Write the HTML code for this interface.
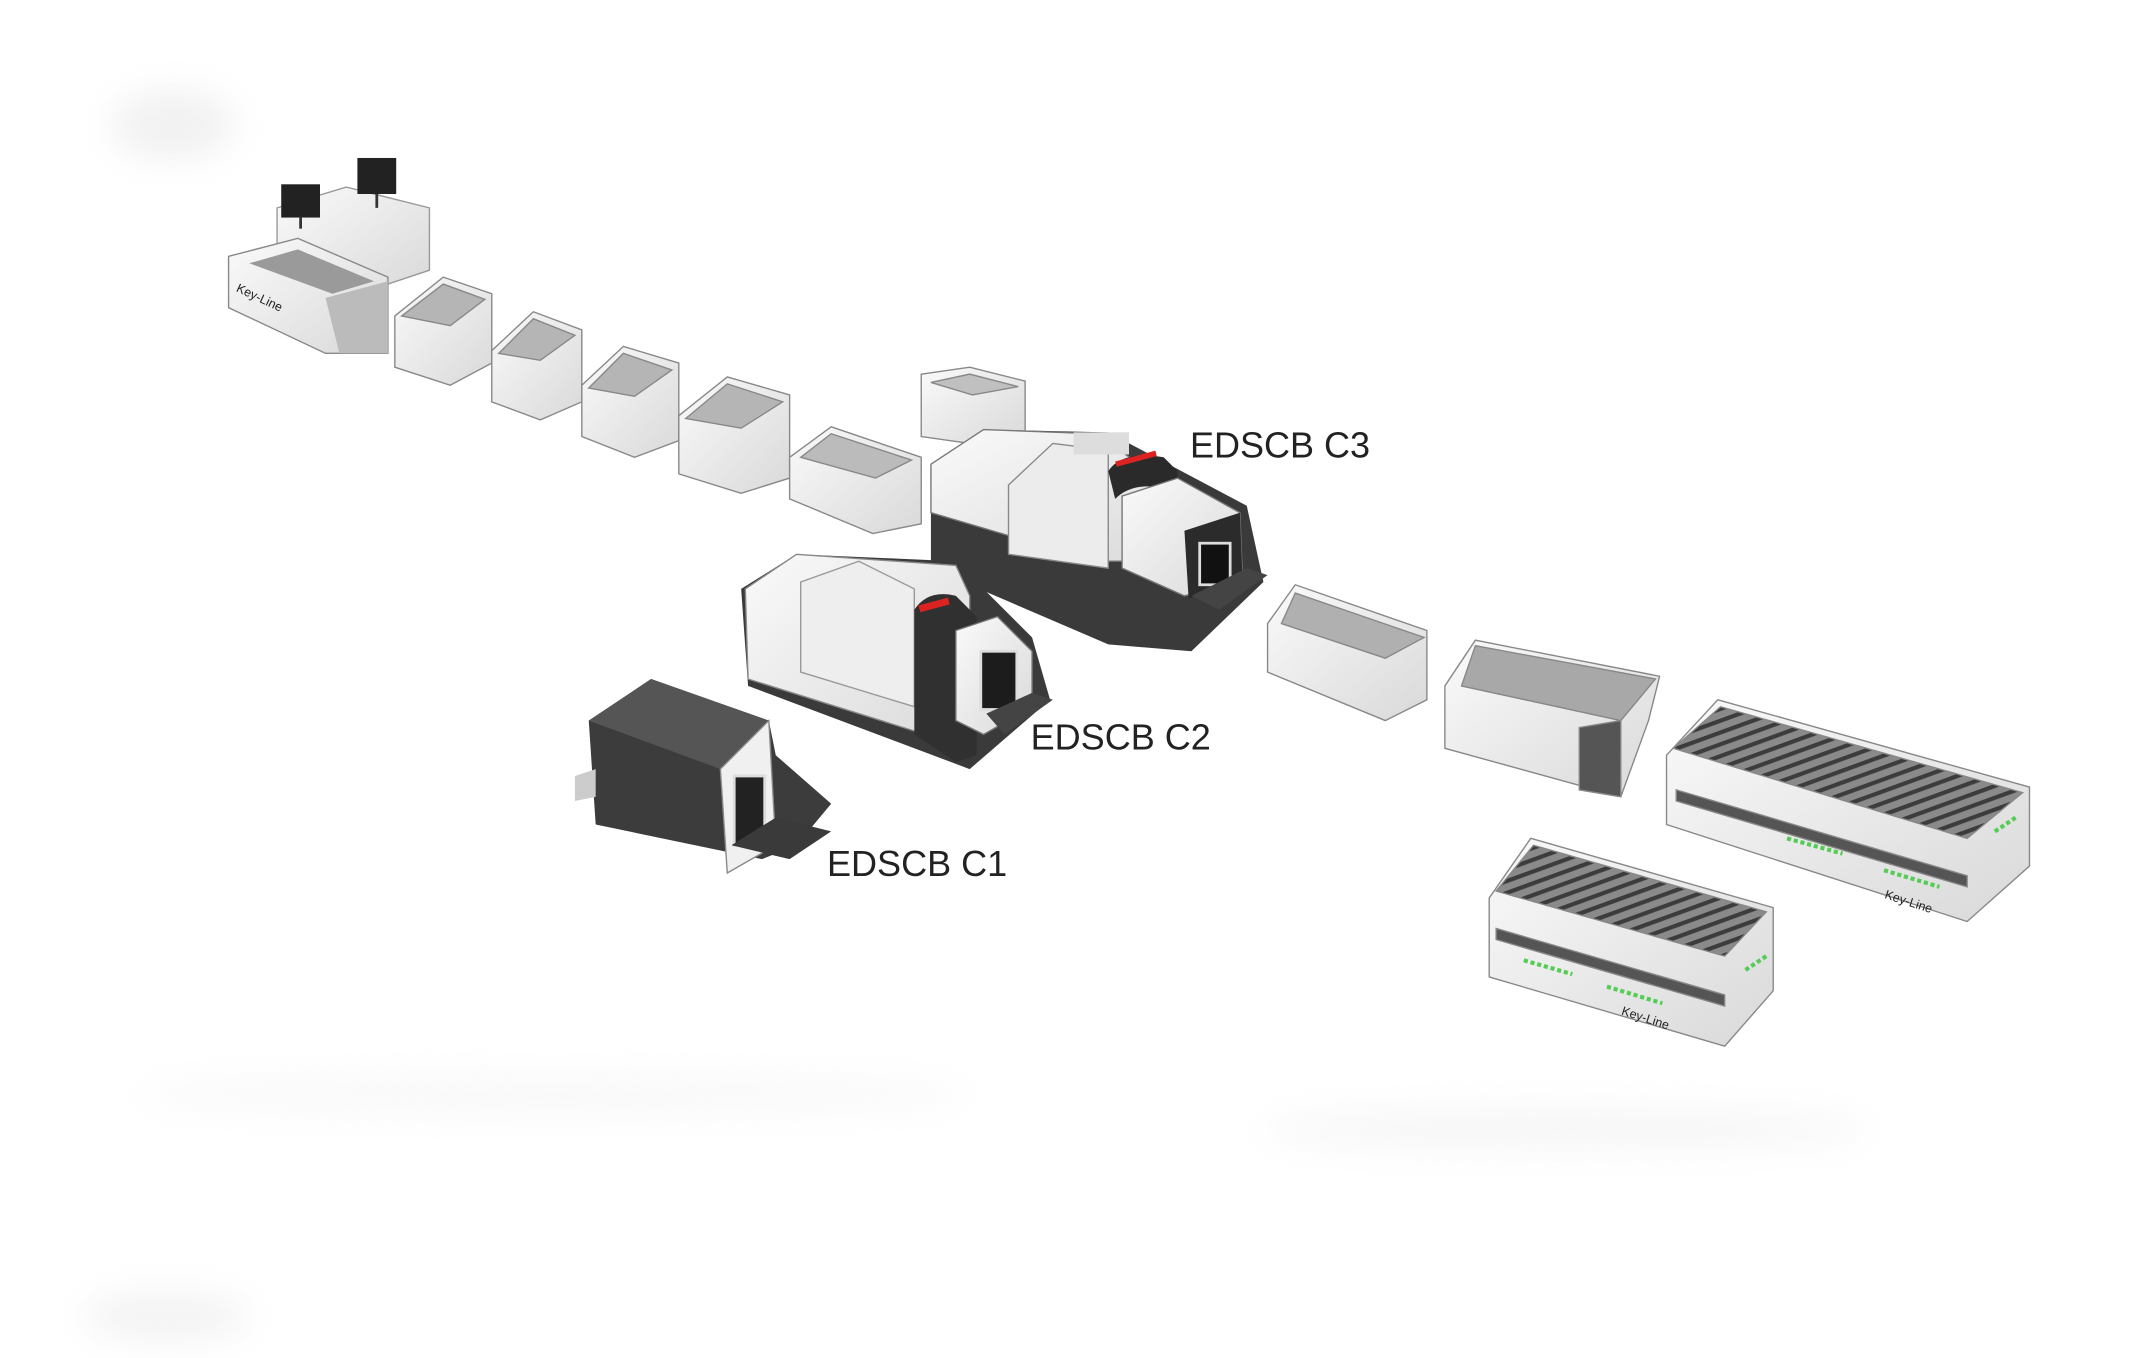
<!DOCTYPE html>
<html><head><meta charset="utf-8"><style>
html,body{margin:0;padding:0;background:#fff;}
svg{display:block}
text{font-family:"Liberation Sans",sans-serif;fill:#222;}
</style></head><body>
<svg width="2150" height="1358" viewBox="0 0 1552 980" preserveAspectRatio="none" xmlns="http://www.w3.org/2000/svg">
<defs>
<linearGradient id="w" x1="0" y1="0" x2="1" y2="1"><stop offset="0" stop-color="#fafafa"/><stop offset="1" stop-color="#d9d9d9"/></linearGradient>
<filter id="bl"><feGaussianBlur stdDeviation="12"/></filter>
<pattern id="rl" width="8" height="8" patternUnits="userSpaceOnUse" patternTransform="rotate(70)"><rect width="8" height="8" fill="#8a8a8a"/><rect width="3" height="8" fill="#3c3c3c"/></pattern>
</defs>
<rect width="1552" height="980" fill="#fff"/>
<g filter="url(#bl)" opacity="0.5">
<ellipse cx="125" cy="90" rx="45" ry="25" fill="#e4e4e4"/>
<ellipse cx="1130" cy="815" rx="220" ry="14" fill="#ececec"/>
<ellipse cx="400" cy="790" rx="300" ry="12" fill="#f0f0f0"/>
<ellipse cx="120" cy="950" rx="60" ry="18" fill="#e8e8e8"/>
</g>

<polygon points="200,150 250,135 310,150 310,195 265,210 200,190" fill="url(#w)" stroke="#999" stroke-width="1"/>
<rect x="203" y="133" width="28" height="24" fill="#222"/>
<rect x="258" y="114" width="28" height="26" fill="#222"/>
<line x1="217" y1="157" x2="217" y2="165" stroke="#333" stroke-width="2"/>
<line x1="272" y1="140" x2="272" y2="150" stroke="#333" stroke-width="2"/>
<polygon points="165,185 215,172 280,200 280,255 235,255 165,222" fill="url(#w)" stroke="#888"/>
<polygon points="180,190 215,180 270,203 240,212" fill="#9a9a9a"/>
<polygon points="235,215 280,203 280,255 245,255" fill="#bbb"/>
<text x="170" y="210" font-size="9" fill="#c33" transform="rotate(25 170 210)">Key-Line</text>

<g stroke="#888" stroke-width="1">
<polygon points="285,228 320,200 355,212 355,262 325,278 285,265" fill="url(#w)"/>
<polygon points="290,228 320,205 350,216 325,235" fill="#b5b5b5"/>
<polygon points="355,253 385,225 420,238 420,290 390,303 355,290" fill="url(#w)"/>
<polygon points="360,255 385,230 415,242 390,260" fill="#b5b5b5"/>
<polygon points="420,278 450,250 490,262 490,318 458,330 420,315" fill="url(#w)"/>
<polygon points="425,280 450,255 485,267 458,286" fill="#b5b5b5"/>
<polygon points="490,300 525,272 570,285 570,345 535,356 490,342" fill="url(#w)"/>
<polygon points="495,302 525,277 565,290 535,309" fill="#b5b5b5"/>
<polygon points="570,330 600,308 665,330 665,378 630,385 570,360" fill="url(#w)"/>
<polygon points="578,330 600,313 658,332 632,345" fill="#bbb"/>
<polygon points="665,270 700,265 740,275 740,320 700,320 665,315" fill="url(#w)"/>
<polygon points="672,276 700,270 735,279 702,285" fill="#c0c0c0"/>
</g>

<polygon points="672,335 710,310 800,312 900,365 912,420 860,470 800,465 672,410" fill="#3a3a3a"/>
<polygon points="672,335 710,310 790,313 860,360 860,405 800,405 740,390 672,370" fill="url(#w)" stroke="#777"/>
<polygon points="728,350 760,320 800,325 800,410 728,400" fill="#ececec" stroke="#888"/>
<path d="M800,340 Q810,325 840,330 L850,340 L850,355 Q820,345 805,360 Z" fill="#2a2a2a"/>
<rect x="805" y="333" width="30" height="4" fill="#d22" transform="rotate(-15 805 333)"/>
<polygon points="810,358 850,345 895,370 897,420 855,430 810,410" fill="url(#w)" stroke="#777"/>
<path d="M855,383 L895,370 L897,420 L858,432 Z" fill="#2b2b2b"/>
<rect x="866" y="392" width="22" height="30" fill="#111" stroke="#ddd" stroke-width="2"/>
<polygon points="860,430 900,410 915,415 880,440" fill="#444"/>
<rect x="775" y="312" width="40" height="16" fill="#ddd"/>
<text x="859" y="330" font-size="26">EDSCB C3</text>

<polygon points="535,425 575,400 690,405 745,460 758,505 700,555 540,495" fill="#3a3a3a"/>
<polygon points="538,425 575,400 690,408 700,430 700,540 540,490" fill="url(#w)" stroke="#888"/>
<polygon points="578,420 620,405 660,425 660,510 578,485" fill="#eee" stroke="#999"/>
<path d="M660,440 Q670,425 690,430 L705,445 L705,545 L690,550 L660,530 Z" fill="#303030"/>
<rect x="663" y="437" width="22" height="5" fill="#d22" transform="rotate(-15 663 437)"/>
<polygon points="690,455 720,445 745,470 745,510 710,530 690,520" fill="url(#w)" stroke="#777"/>
<rect x="708" y="470" width="26" height="42" fill="#1c1c1c" stroke="#ddd" stroke-width="2"/>
<polygon points="712,515 745,500 760,505 725,530" fill="#444"/>
<text x="744" y="541" font-size="26">EDSCB C2</text>

<polygon points="425,520 470,490 555,520 560,545 600,580 575,610 550,620 430,595" fill="#3c3c3c"/>
<polygon points="425,520 470,490 555,520 520,555" fill="#555"/>
<polygon points="520,555 555,520 560,610 525,630" fill="#f0f0f0" stroke="#888"/>
<rect x="530" y="560" width="22" height="50" fill="#222" stroke="#ddd" stroke-width="2"/>
<polygon points="528,610 560,590 600,600 570,620" fill="#3a3a3a"/>
<polygon points="415,560 430,555 430,575 415,578" fill="#ccc"/>
<text x="597" y="632" font-size="26">EDSCB C1</text>

<g stroke="#888">
<polygon points="915,450 935,422 1030,455 1030,505 1000,520 915,485" fill="url(#w)"/>
<polygon points="935,428 1028,460 1000,475 925,450" fill="#b0b0b0"/>
<polygon points="1043,495 1065,462 1198,488 1190,520 1170,575 1043,540" fill="url(#w)"/>
<polygon points="1065,466 1195,490 1170,520 1055,495" fill="#a8a8a8"/>
<polygon points="1140,525 1170,520 1170,575 1140,570" fill="#555"/>
</g>

<g stroke="#888">
<polygon points="1203,545 1240,505 1465,568 1465,625 1420,665 1203,595" fill="url(#w)"/>
<polygon points="1208,540 1242,510 1460,572 1420,605" fill="url(#rl)"/>
<polygon points="1210,570 1420,632 1420,640 1210,578" fill="#555"/>
<polygon points="1075,648 1105,605 1280,655 1280,715 1245,755 1075,705" fill="url(#w)"/>
<polygon points="1080,643 1107,610 1275,658 1245,690" fill="url(#rl)"/>
<polygon points="1080,670 1245,718 1245,726 1080,678" fill="#555"/>
</g>
<g stroke="#5c5" stroke-width="3" stroke-dasharray="3 2">
<line x1="1290" y1="605" x2="1330" y2="616"/>
<line x1="1360" y1="628" x2="1400" y2="640"/>
<line x1="1440" y1="600" x2="1455" y2="590"/>
<line x1="1100" y1="693" x2="1135" y2="703"/>
<line x1="1160" y1="712" x2="1200" y2="724"/>
<line x1="1260" y1="700" x2="1275" y2="690"/>
</g>
<text x="1360" y="648" font-size="9" fill="#2a2" transform="rotate(18 1360 648)">Key-Line</text>
<text x="1170" y="732" font-size="9" fill="#2a2" transform="rotate(18 1170 732)">Key-Line</text>
</svg>
</body></html>
